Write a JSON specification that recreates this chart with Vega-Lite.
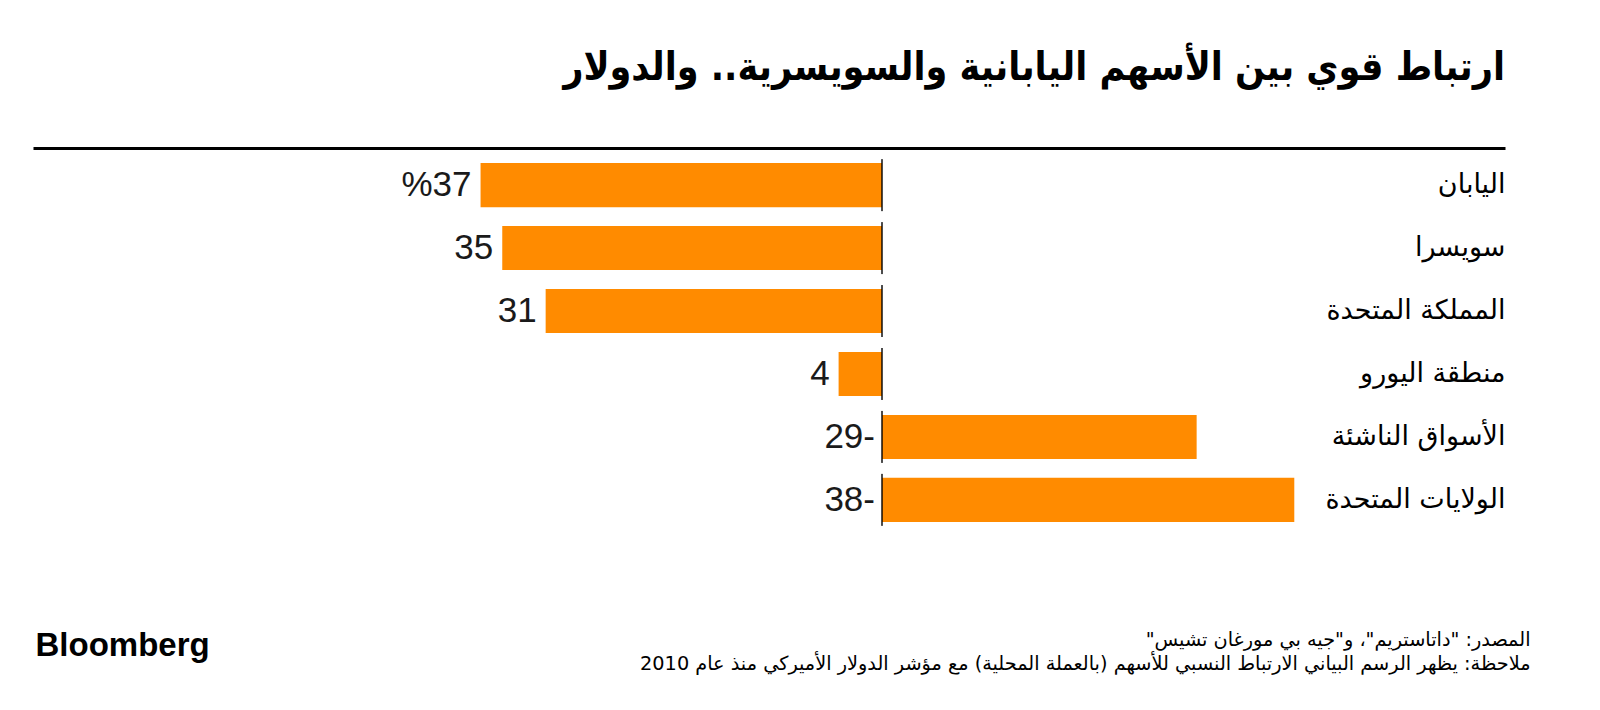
{
  "$schema": "https://vega.github.io/schema/vega-lite/v6.json",
  "width": 1472,
  "height": 389,
  "autosize": {"type": "none"},
  "padding": {"left": 33, "top": 148, "right": 95, "bottom": 173},
  "background": "white",
  "title": {
    "text": "ارتباط قوي بين الأسهم اليابانية والسويسرية.. والدولار",
    "anchor": "end",
    "frame": "group",
    "font": "DejaVu Sans Condensed, DejaVu Sans",
    "fontSize": 39,
    "fontWeight": "bold",
    "color": "#000000",
    "baseline": "alphabetic",
    "offset": 29
  },
  "config": {"view": {"stroke": null}},
  "data": {
    "values": [
      {"country": "اليابان", "value": 37, "label": "%37"},
      {"country": "سويسرا", "value": 35, "label": "35"},
      {"country": "المملكة المتحدة", "value": 31, "label": "31"},
      {"country": "منطقة اليورو", "value": 4, "label": "4"},
      {"country": "الأسواق الناشئة", "value": -29, "label": "29-"},
      {"country": "الولايات المتحدة", "value": -38, "label": "38-"}
    ]
  },
  "encoding": {
    "y": {
      "field": "country",
      "type": "nominal",
      "sort": null,
      "scale": {"paddingInner": 0.3, "paddingOuter": 0.24},
      "axis": {
        "orient": "right",
        "title": null,
        "domain": false,
        "ticks": false,
        "grid": false,
        "labelAlign": "right",
        "labelPadding": 0,
        "labelFont": "DejaVu Sans",
        "labelFontSize": 27,
        "labelColor": "#000000",
        "labelLimit": 0
      }
    }
  },
  "layer": [
    {
      "mark": {"type": "bar", "color": "#FF8B00"},
      "encoding": {
        "x": {
          "field": "value",
          "type": "quantitative",
          "scale": {"domain": [-57.42, 78.25], "reverse": true, "nice": false, "zero": false},
          "axis": {
            "orient": "top",
            "title": null,
            "labels": false,
            "ticks": false,
            "grid": false,
            "domainColor": "#000000",
            "domainWidth": 3
          }
        }
      }
    },
    {
      "mark": {"type": "tick", "color": "#000000", "thickness": 2, "size": 52},
      "encoding": {
        "x": {
          "datum": 0,
          "type": "quantitative",
          "axis": {
            "orient": "bottom",
            "domain": false,
            "labels": false,
            "ticks": false,
            "grid": false,
            "title": "Bloomberg",
            "titleFont": "Liberation Sans",
            "titleFontSize": 33,
            "titleFontWeight": "bold",
            "titleColor": "#000000",
            "titleAlign": "left",
            "titleBaseline": "alphabetic",
            "titleAngle": 0,
            "titleX": 2,
            "titleY": 118
          }
        }
      }
    },
    {
      "transform": [{"filter": "datum.value > 0"}],
      "mark": {"type": "text", "align": "right", "baseline": "middle", "dx": -9, "font": "Liberation Sans", "fontSize": 35, "color": "#1a1a1a"},
      "encoding": {
        "x": {
          "field": "value",
          "type": "quantitative",
          "axis": {
            "orient": "bottom",
            "domain": false,
            "labels": false,
            "ticks": false,
            "grid": false,
            "title": ["‏المصدر: \"داتاستريم\"، و\"جيه بي مورغان تشيس\"‏", "‏ملاحظة: يظهر الرسم البياني الارتباط النسبي للأسهم (بالعملة المحلية) مع مؤشر الدولار الأميركي منذ عام 2010‏"],
            "titleFont": "DejaVu Sans",
            "titleFontSize": 19.3,
            "titleFontWeight": "normal",
            "titleColor": "#000000",
            "titleAlign": "right",
            "titleBaseline": "alphabetic",
            "titleLineHeight": 24,
            "titleAngle": 0,
            "titleX": 1497,
            "titleY": 108
          }
        },
        "text": {"field": "label", "type": "nominal"}
      }
    },
    {
      "transform": [{"filter": "datum.value < 0"}],
      "mark": {"type": "text", "align": "right", "baseline": "middle", "dx": -7, "font": "Liberation Sans", "fontSize": 35, "color": "#1a1a1a"},
      "encoding": {
        "x": {"datum": 0, "type": "quantitative", "axis": null},
        "text": {"field": "label", "type": "nominal"}
      }
    }
  ],
  "resolve": {"axis": {"x": "independent"}}
}
